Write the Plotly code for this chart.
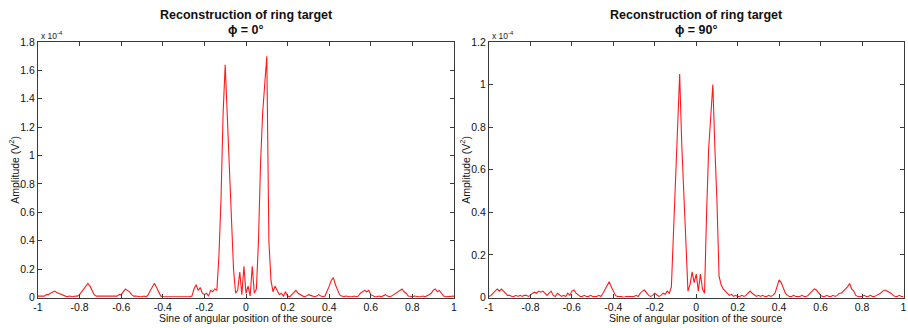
import numpy as np
import plotly.graph_objects as go

# ---------------- data (amplitude in units of 1e-4 V^2) ----------------
sine_pos = np.round(np.linspace(-1.0, 1.0, 201), 2)

amp_phi0 = [
    0.01, 0.01, 0.005, 0.01, 0.02, 0.02, 0.03, 0.04, 0.045, 0.035,
    0.03, 0.02, 0.02, 0.01, 0.005, 0.01, 0.005, 0.005, 0.01, 0.01,
    0.02, 0.04, 0.06, 0.08, 0.10, 0.08, 0.05, 0.02, 0.01, 0.01,
    0.005, 0.01, 0.005, 0.01, 0.005, 0.005, 0.01, 0.005, 0.01, 0.02,
    0.02, 0.04, 0.06, 0.05, 0.04, 0.02, 0.01, 0.01, 0.005, 0.005,
    0.005, 0.01, 0.005, 0.02, 0.05, 0.08, 0.10, 0.07, 0.04, 0.01,
    0.005, 0.005, 0.005, 0.0, 0.005, 0.005, 0.0, 0.005, 0.005, 0.005,
    0.005, 0.005, 0.005, 0.005, 0.01, 0.06, 0.09, 0.05, 0.07, 0.03,
    0.02, 0.03, 0.01, 0.05, 0.04, 0.06, 0.05, 0.3, 0.7, 1.3,
    1.64, 1.3, 0.95, 0.55, 0.2, 0.03, 0.05, 0.18, 0.02, 0.22,
    0.03, 0.08, 0.01, 0.22, 0.03, 0.06, 0.4, 0.95, 1.3, 1.5,
    1.70, 0.4, 0.12, 0.04, 0.08, 0.05, 0.02, 0.03, 0.01, 0.04,
    0.01, 0.005, 0.02, 0.04, 0.05, 0.03, 0.02, 0.01, 0.005, 0.01,
    0.02, 0.015, 0.01, 0.005, 0.01, 0.02, 0.01, 0.005, 0.01, 0.04,
    0.08, 0.12, 0.14, 0.09, 0.05, 0.02, 0.01, 0.005, 0.01, 0.005,
    0.005, 0.005, 0.01, 0.005, 0.01, 0.03, 0.04, 0.05, 0.04, 0.05,
    0.02, 0.01, 0.005, 0.005, 0.01, 0.005, 0.01, 0.02, 0.01, 0.005,
    0.01, 0.02, 0.03, 0.04, 0.05, 0.06, 0.04, 0.03, 0.01, 0.005,
    0.005, 0.01, 0.005, 0.005, 0.005, 0.01, 0.005, 0.01, 0.02, 0.03,
    0.05, 0.06, 0.04, 0.05, 0.03, 0.01, 0.005, 0.005, 0.01, 0.01,
    0.01,
]

amp_phi90 = [
    0.005, 0.01, 0.02, 0.03, 0.04, 0.03, 0.04, 0.03, 0.02, 0.01,
    0.01, 0.005, 0.005, 0.01, 0.005, 0.01, 0.005, 0.01, 0.01, 0.005,
    0.01, 0.02, 0.025, 0.02, 0.03, 0.025, 0.03, 0.02, 0.01, 0.02,
    0.03, 0.01, 0.005, 0.02, 0.01, 0.005, 0.01, 0.005, 0.02, 0.01,
    0.03, 0.035, 0.02, 0.01, 0.005, 0.005, 0.01, 0.005, 0.005, 0.01,
    0.005, 0.005, 0.005, 0.01, 0.005, 0.02, 0.04, 0.06, 0.074, 0.05,
    0.03, 0.01, 0.005, 0.005, 0.005, 0.0, 0.005, 0.005, 0.005, 0.005,
    0.005, 0.01, 0.005, 0.02, 0.03, 0.035, 0.02, 0.01, 0.005, 0.01,
    0.02, 0.01, 0.005, 0.01, 0.02, 0.015, 0.03, 0.02, 0.05, 0.3,
    0.55, 0.75, 1.05, 0.72, 0.5, 0.2, 0.03, 0.06, 0.12, 0.07,
    0.11, 0.03, 0.11, 0.04, 0.02, 0.4, 0.7, 0.85, 1.0, 0.7,
    0.45, 0.1, 0.06, 0.04, 0.03, 0.02, 0.01, 0.015, 0.005, 0.01,
    0.005, 0.005, 0.01, 0.005, 0.01, 0.02, 0.03, 0.02, 0.01, 0.005,
    0.01, 0.005, 0.01, 0.005, 0.005, 0.01, 0.005, 0.01, 0.02, 0.05,
    0.083, 0.07, 0.04, 0.02, 0.01, 0.005, 0.005, 0.01, 0.005, 0.005,
    0.005, 0.01, 0.005, 0.005, 0.01, 0.02, 0.03, 0.04, 0.035, 0.02,
    0.01, 0.005, 0.005, 0.01, 0.005, 0.005, 0.01, 0.005, 0.01, 0.02,
    0.02, 0.03, 0.04, 0.05, 0.066, 0.04, 0.03, 0.01, 0.005, 0.005,
    0.005, 0.01, 0.005, 0.005, 0.01, 0.005, 0.005, 0.01, 0.015, 0.02,
    0.03, 0.035, 0.03, 0.025, 0.02, 0.01, 0.005, 0.005, 0.01, 0.005,
    0.005,
]

x_ticks = [-1, -0.8, -0.6, -0.4, -0.2, 0, 0.2, 0.4, 0.6, 0.8, 1]
x_ticktext = ["-1", "-0.8", "-0.6", "-0.4", "-0.2", "0", "0.2", "0.4", "0.6", "0.8", "1"]
y0_ticks = [0, 0.2, 0.4, 0.6, 0.8, 1.0, 1.2, 1.4, 1.6, 1.8]
y0_ticktext = ["0", "0.2", "0.4", "0.6", "0.8", "1", "1.2", "1.4", "1.6", "1.8"]
y90_ticks = [0, 0.2, 0.4, 0.6, 0.8, 1.0, 1.2]
y90_ticktext = ["0", "0.2", "0.4", "0.6", "0.8", "1", "1.2"]

title_main = "Reconstruction of ring target"
subtitles = ["ϕ = 0°", "ϕ = 90°"]
x_title = "Sine of angular position of the source"
y_title = "Amplitude (V<sup>2</sup>)"
exp_label = "x 10<sup>-4</sup>"

# ---------------- figure ----------------
W, H = 908, 328
FONT = "Liberation Sans, Arial, sans-serif"
AX = "#3a3a3a"

dom_l = [38 / W, 454 / W]
dom_r = [489 / W, 903.5 / W]
dom_y = [(H - 297.5) / H, (H - 42) / H]

fig = go.Figure()
fig.add_trace(go.Scatter(x=sine_pos, y=amp_phi0, mode="lines",
                         line=dict(color="#ff1a1a", width=1.1),
                         xaxis="x", yaxis="y", showlegend=False))
fig.add_trace(go.Scatter(x=sine_pos, y=amp_phi90, mode="lines",
                         line=dict(color="#ff1a1a", width=1.1),
                         xaxis="x2", yaxis="y2", showlegend=False))

axis_common = dict(showline=True, linecolor=AX, linewidth=1, mirror="ticks",
                   ticks="inside", ticklen=4, tickcolor=AX, tickwidth=1,
                   showgrid=False, zeroline=False, automargin=False,
                   tickfont=dict(family=FONT, size=10.5, color="#111111"))

fig.update_layout(
    width=W, height=H,
    margin=dict(l=0, r=0, t=0, b=0),
    paper_bgcolor="white", plot_bgcolor="white",
    xaxis=dict(domain=dom_l, range=[-1, 1], tickvals=x_ticks, ticktext=x_ticktext,
               anchor="y", **axis_common),
    yaxis=dict(domain=dom_y, range=[0, 1.8], tickvals=y0_ticks, ticktext=y0_ticktext,
               anchor="x", **axis_common),
    xaxis2=dict(domain=dom_r, range=[-1, 1], tickvals=x_ticks, ticktext=x_ticktext,
                anchor="y2", **axis_common),
    yaxis2=dict(domain=dom_y, range=[0, 1.2], tickvals=y90_ticks, ticktext=y90_ticktext,
                anchor="x2", **axis_common),
)

annotations = []
for dom, sub, ylab_x in [(dom_l, subtitles[0], 14), (dom_r, subtitles[1], 465)]:
    cx = (dom[0] + dom[1]) / 2
    annotations.append(dict(text="<b>" + title_main + "</b>", x=cx, y=1 - 15 / H,
                            xref="paper", yref="paper", showarrow=False,
                            xanchor="center", yanchor="middle",
                            font=dict(family=FONT, size=12.5, color="#111111")))
    annotations.append(dict(text="<b>" + sub + "</b>", x=cx, y=1 - 30 / H,
                            xref="paper", yref="paper", showarrow=False,
                            xanchor="center", yanchor="middle",
                            font=dict(family=FONT, size=12.5, color="#111111")))
    annotations.append(dict(text=x_title, x=cx, y=1 - 318 / H,
                            xref="paper", yref="paper", showarrow=False,
                            xanchor="center", yanchor="middle",
                            font=dict(family=FONT, size=10.5, color="#111111")))
    annotations.append(dict(text=y_title, x=ylab_x / W, y=(dom_y[0] + dom_y[1]) / 2,
                            xref="paper", yref="paper", showarrow=False, textangle=-90,
                            xanchor="center", yanchor="middle",
                            font=dict(family=FONT, size=10.5, color="#111111")))
    annotations.append(dict(text=exp_label, x=dom[0] + 1 / W, y=1 - 36 / H,
                            xref="paper", yref="paper", showarrow=False,
                            xanchor="left", yanchor="middle",
                            font=dict(family=FONT, size=8.5, color="#222222")))

fig.update_layout(annotations=annotations)
fig.write_html("out.html",
               config={"displayModeBar": False},
               post_script="document.body.style.margin='0';"
                           "document.body.style.overflow='hidden';")
